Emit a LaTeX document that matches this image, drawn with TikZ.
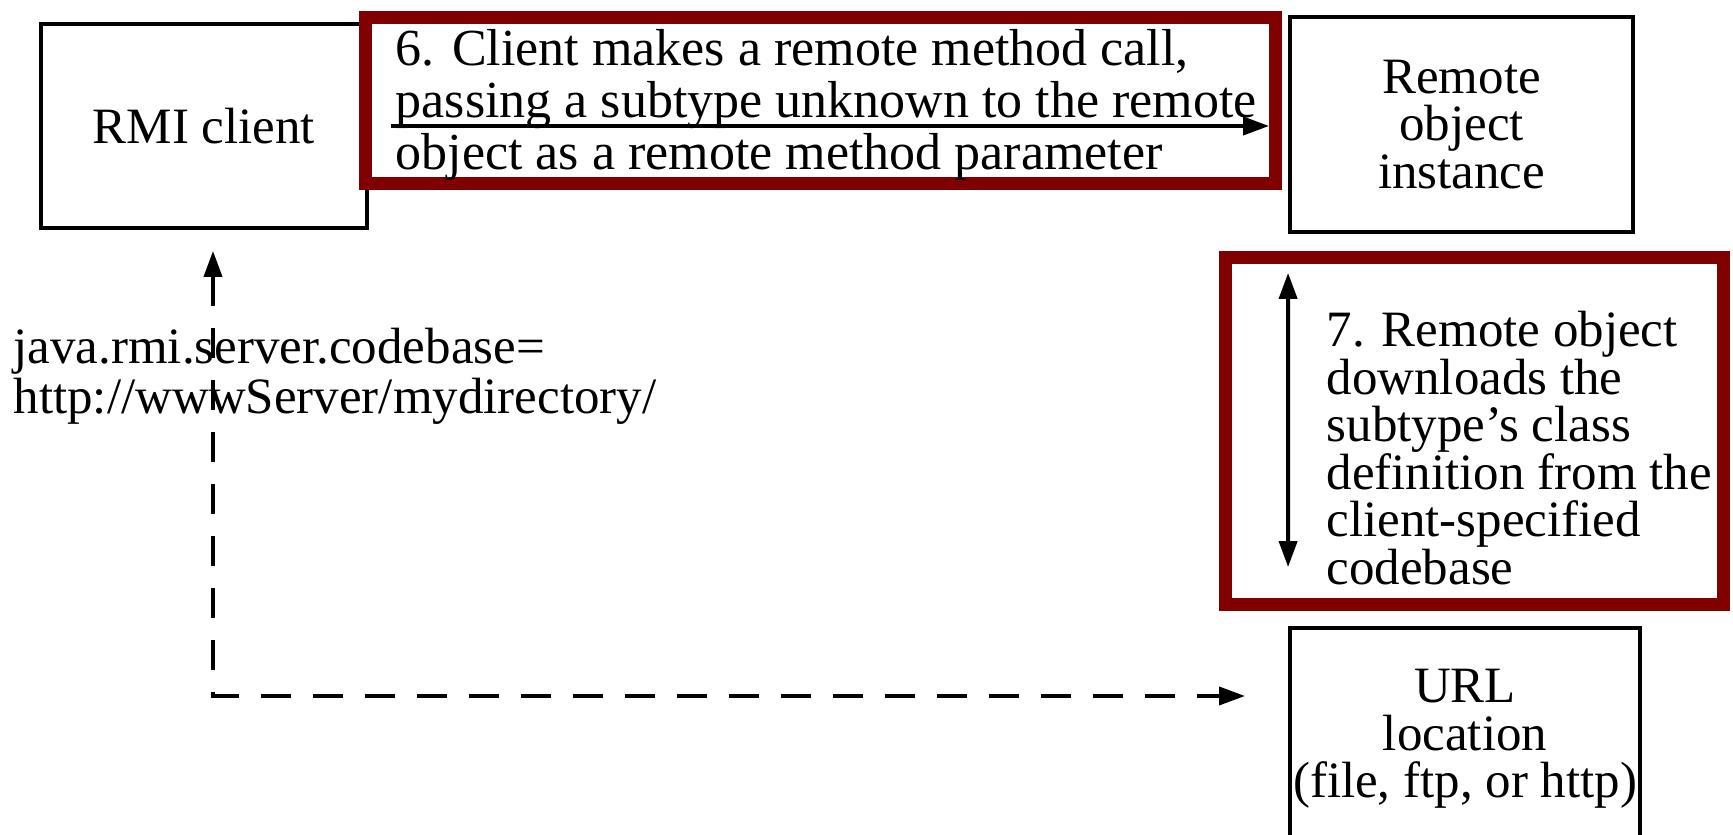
\documentclass[tikz,border=0pt]{standalone}
\usepackage{fontspec}
\setmainfont{Liberation Serif}
\usepackage{tikz}
\usetikzlibrary{positioning,arrows.meta}
\definecolor{framered}{HTML}{800000}

\begin{document}
\begin{tikzpicture}[
  box/.style={draw, line width=1.1pt, align=center, inner sep=0pt},
  redbox/.style={draw=framered, line width=3.7pt, inner sep=0pt},
  lbl/.style={align=left, inner sep=0pt},
  tip/.style={-{Triangle[length=2.6mm,width=1.8mm]}},
  twotip/.style={{Triangle[length=2.6mm,width=1.8mm]}-{Triangle[length=2.6mm,width=1.8mm]}},
  font=\fontsize{14.5}{13.5}\selectfont
]
\useasboundingbox (0,0) rectangle (17.33,8.35);

% Boxes
\node[box, minimum width=3.26cm, minimum height=2.04cm] (client) at (2.04,7.09) {RMI client};
\node[box, minimum width=3.43cm, minimum height=2.15cm] (remote) at (14.615,7.105) {Remote\\object\\instance};
\node[box, minimum width=3.5cm, minimum height=2.22cm] (url) at (14.65,0.96) {URL\\location\\(file, ftp, or http)};

% Step 6
\node[redbox, minimum width=9.10cm, minimum height=1.66cm] (step6) at (8.205,7.345) {};
\node[lbl, anchor=west, font=\fontsize{14.8}{14.8}\selectfont] (step6text) at (3.95,7.30) {6. Client makes a remote method call,\\passing a subtype unknown to the remote\\object as a remote method parameter};
\draw[tip, line width=1.1pt] ([xshift=2.2mm]client.east) -- ([xshift=-1.9mm]client.east -| remote.west);

% Step 7
\node[redbox, minimum width=4.98cm, minimum height=3.47cm] (step7) at (14.745,4.04) {};
\node[lbl, anchor=west] (step7text) at (13.26,3.87) {7. Remote object\\downloads the\\subtype's class\\definition from the\\client-specified\\codebase};
\draw[twotip, line width=1.1pt] ([yshift=-3.9mm]remote.south west) -- ([yshift=5.9mm]url.north west);

% Codebase
\node[lbl, anchor=west, font=\fontsize{14.5}{12.5}\selectfont] (codebase) at (0.13,4.59) {java.rmi.server.codebase=\\http://wwwServer/mydirectory/};
\coordinate (urlin) at (12.45,1.39);
\draw[twotip, line width=1.1pt, dash pattern=on 3mm off 2.2mm] ([xshift=0.9mm,yshift=-2.1mm]client.south) |- (urlin);
\end{tikzpicture}
\end{document}
